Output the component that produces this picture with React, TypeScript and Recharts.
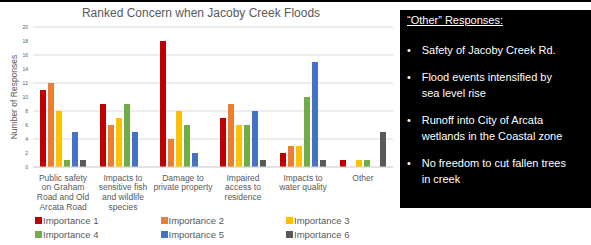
import { BarChart, Bar, XAxis, YAxis, CartesianGrid, Label } from 'recharts'

const categories = [
  'Public safety\non Graham\nRoad and Old\nArcata Road',
  'Impacts to\nsensitive fish\nand wildlife\nspecies',
  'Damage to\nprivate property',
  'Impaired\naccess to\nresidence',
  'Impacts to\nwater quality',
  'Other',
]

const importance1 = [11, 9, 18, 7, 2, 1]
const importance2 = [12, 6, 4, 9, 3, 0]
const importance3 = [8, 7, 8, 6, 3, 1]
const importance4 = [1, 9, 6, 6, 10, 1]
const importance5 = [5, 5, 2, 8, 15, 0]
const importance6 = [1, 0, 0, 1, 1, 5]

const yTicks = [0, 2, 4, 6, 8, 10, 12, 14, 16, 18, 20]

const otherResponses = [
  'Safety of Jacoby Creek Rd.',
  'Flood events intensified by\nsea level rise',
  'Runoff into City of Arcata\nwetlands in the Coastal zone',
  'No freedom to cut fallen trees\nin creek',
]

const series = [
  { key: 'imp1', name: 'Importance 1', color: '#C00000', values: importance1 },
  { key: 'imp2', name: 'Importance 2', color: '#ED7D31', values: importance2 },
  { key: 'imp3', name: 'Importance 3', color: '#FFC000', values: importance3 },
  { key: 'imp4', name: 'Importance 4', color: '#70AD47', values: importance4 },
  { key: 'imp5', name: 'Importance 5', color: '#4472C4', values: importance5 },
  { key: 'imp6', name: 'Importance 6', color: '#595959', values: importance6 },
]

const data = categories.map((cat, i) => {
  const row: Record<string, string | number> = { cat }
  series.forEach((s) => { row[s.key] = s.values[i] })
  return row
})

const FONT = '"Liberation Sans", Arial, sans-serif'
const GREY = '#595959'

function CategoryTick({ x, y, payload }: any) {
  const lines = String(payload.value).split('\n')
  return (
    <text x={x} y={y} textAnchor="middle" fill={GREY} fontSize={8.5} fontFamily={FONT}>
      {lines.map((l, i) => (
        <tspan key={i} x={x} dy={i === 0 ? 5.5 : 9.7}>{l}</tspan>
      ))}
    </text>
  )
}

export default function App() {
  return (
    <div style={{ position: 'absolute', left: 0, top: 0, width: 591, height: 245, background: '#fff', fontFamily: FONT, overflow: 'hidden' }}>
      {/* top rule */}
      <div style={{ position: 'absolute', left: 0, top: 0, width: 591, height: 2, background: '#000' }} />

      {/* title */}
      <div style={{ position: 'absolute', left: 0, width: 402, top: 6, textAlign: 'center', fontSize: 12, color: GREY, lineHeight: '14px' }}>
        Ranked Concern when Jacoby Creek Floods
      </div>

      <div style={{ position: 'absolute', left: 0, top: 0 }}>
        <BarChart
          width={395}
          height={245}
          data={data}
          margin={{ top: 27, right: 2, left: 0, bottom: 33 }}
          barSize={6}
          barGap={2}
        >
          <CartesianGrid vertical={false} stroke="#d9d9d9" />
          <XAxis
            dataKey="cat"
            interval={0}
            height={45}
            axisLine={{ stroke: '#d9d9d9' }}
            tickLine={false}
            tick={<CategoryTick />}
          />
          <YAxis
            width={33}
            domain={[0, 20]}
            ticks={yTicks}
            axisLine={false}
            tickLine={false}
            tickSize={3}
            tickMargin={2}
            tick={{ fontSize: 5, fill: GREY, fontFamily: FONT }}
          >
            <Label
              value="Number of Responses"
              angle={-90}
              position="center"
              dx={-3}
              style={{ fontSize: 8.5, fill: GREY, fontFamily: FONT }}
            />
          </YAxis>
          {series.map((s) => (
            <Bar key={s.key} dataKey={s.key} name={s.name} fill={s.color} isAnimationActive={false} />
          ))}
        </BarChart>
      </div>

      {/* legend */}
      {series.map((s, i) => (
        <div
          key={s.key}
          style={{
            position: 'absolute',
            left: 35 + (i % 3) * 125.5,
            top: 214 + Math.floor(i / 3) * 14,
            display: 'flex',
            alignItems: 'center',
            fontSize: 9.5,
            lineHeight: '13px',
            color: GREY,
            whiteSpace: 'nowrap',
          }}
        >
          <span style={{ width: 7, height: 7, background: s.color, marginRight: 1 }} />
          {s.name}
        </div>
      ))}

      {/* "Other" responses box */}
      <div style={{ position: 'absolute', left: 400, top: 10, width: 191, height: 198, background: '#000', color: '#fff', fontSize: 11 }}>
        <div style={{ position: 'absolute', left: 7, top: 4, lineHeight: '13px', textDecoration: 'underline' }}>
          “Other” Responses:
        </div>
        {otherResponses.map((t, i) => (
          <div
            key={i}
            style={{
              position: 'absolute',
              left: 7,
              top: [32, 59, 102, 145][i],
              display: 'flex',
              lineHeight: '16px',
              whiteSpace: 'pre-line',
            }}
          >
            <span style={{ width: 14.7, flexShrink: 0 }}>•</span>
            <span>{t}</span>
          </div>
        ))}
      </div>
    </div>
  )
}
